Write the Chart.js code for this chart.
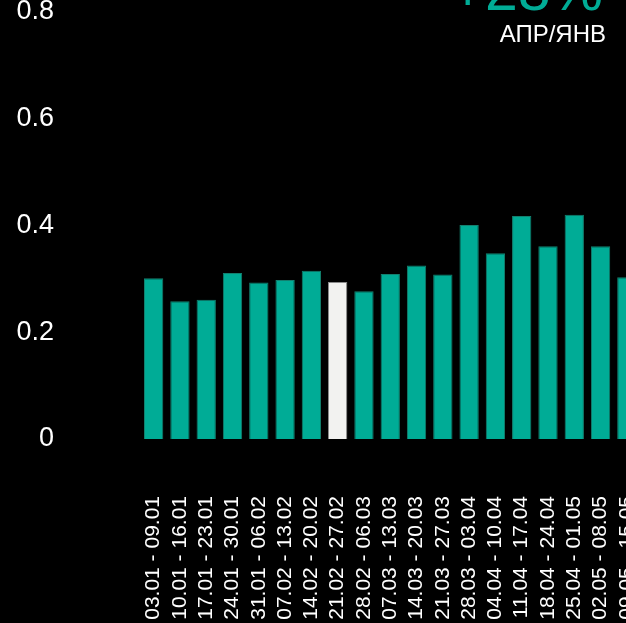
<!DOCTYPE html>
<html>
<head>
<meta charset="utf-8">
<script src="https://cdn.jsdelivr.net/npm/chart.js@4"></script>
<style>
  html, body { margin: 0; padding: 0; background: #000; overflow: hidden; }
  #wrap { position: relative; width: 640px; height: 623px; }
</style>
</head>
<body>
<div id="wrap"><canvas id="weeklyChart" width="640" height="623"></canvas></div>
<script>
const weeks = [
  '03.01 - 09.01', '10.01 - 16.01', '17.01 - 23.01', '24.01 - 30.01',
  '31.01 - 06.02', '07.02 - 13.02', '14.02 - 20.02', '21.02 - 27.02',
  '28.02 - 06.03', '07.03 - 13.03', '14.03 - 20.03', '21.03 - 27.03',
  '28.03 - 03.04', '04.04 - 10.04', '11.04 - 17.04', '18.04 - 24.04',
  '25.04 - 01.05', '02.05 - 08.05', '09.05 - 15.05'
];
const values = [
  0.301, 0.258, 0.261, 0.311, 0.293, 0.298, 0.315, 0.294, 0.277, 0.309,
  0.325, 0.308, 0.401, 0.348, 0.418, 0.361, 0.420, 0.361, 0.303
];
const highlightWeek = '21.02 - 27.02';
const yTicks = [0, 0.2, 0.4, 0.6, 0.8];
const headline = '+28%';
const headlineSub = 'АПР/ЯНВ';

const teal = '#00ac96';
const tealEdge = '#13806f';

const headlinePlugin = {
  id: 'headline',
  afterDraw(chart) {
    const ctx = chart.ctx;
    ctx.save();
    ctx.textAlign = 'right';
    ctx.textBaseline = 'alphabetic';
    ctx.fillStyle = teal;
    ctx.font = '59px "Liberation Sans", Arial, sans-serif';
    ctx.fillText(headline, 603, 10);
    ctx.fillStyle = '#ffffff';
    ctx.font = '24px "Liberation Sans", Arial, sans-serif';
    ctx.fillText(headlineSub, 606, 42);
    ctx.restore();
  }
};

const ctx = document.getElementById('weeklyChart').getContext('2d');
new Chart(ctx, {
  type: 'bar',
  data: {
    labels: weeks,
    datasets: [{
      data: values,
      backgroundColor: weeks.map(w => w === highlightWeek ? '#f2f2f0' : teal),
      borderColor: weeks.map(w => w === highlightWeek ? '#8a8a8a' : tealEdge),
      borderWidth: 1,
      categoryPercentage: 1,
      barPercentage: 0.735
    }]
  },
  options: {
    responsive: false,
    animation: false,
    layout: { padding: { top: 12, left: 0, right: 0, bottom: 0 } },
    plugins: {
      legend: { display: false },
      tooltip: { enabled: false }
    },
    scales: {
      x: {
        grid: { display: false, drawTicks: false },
        border: { display: false },
        afterFit(scale) {
          // fixed axis height; drop the padding that tick padding adds to the sides
          scale.height = 184;
          scale.paddingLeft = 0;
          scale.paddingRight = 0;
        },
        ticks: {
          color: '#ffffff',
          font: { family: '"Liberation Sans", Arial, sans-serif', size: 21 },
          minRotation: 90,
          maxRotation: 90,
          autoSkip: false,
          padding: 57
        }
      },
      y: {
        min: 0,
        max: 0.8,
        grid: { display: false, drawTicks: false },
        border: { display: false },
        afterFit(scale) {
          scale.width = 140.5;
          scale.paddingTop = 0;
          scale.paddingBottom = 0;
        },
        afterBuildTicks(scale) { scale.ticks = yTicks.map(v => ({ value: v })); },
        ticks: {
          color: '#ffffff',
          font: { family: '"Liberation Sans", Arial, sans-serif', size: 27 },
          padding: 86.5
        }
      }
    }
  },
  plugins: [headlinePlugin]
});
</script>
</body>
</html>
